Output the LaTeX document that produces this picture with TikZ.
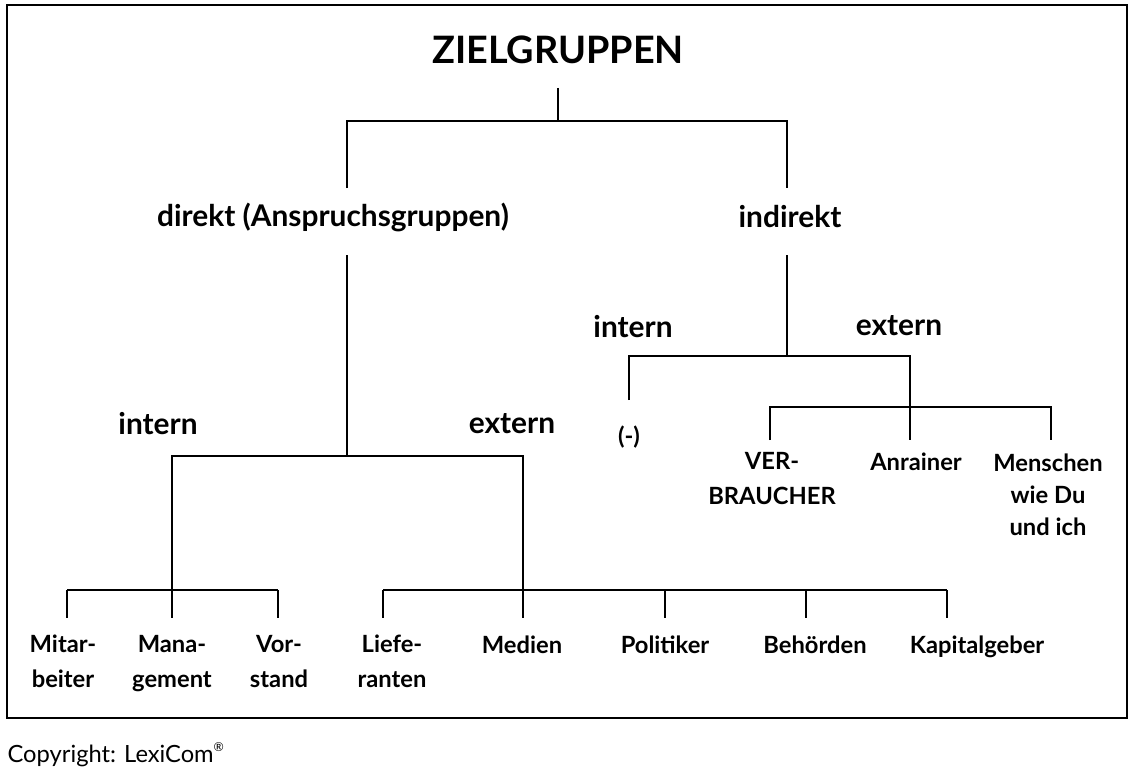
\documentclass[tikz,border=0pt]{standalone}
\usepackage{fontspec}
\setmainfont{Lato}
\usetikzlibrary{positioning}
\tikzset{
  lbl/.style={font=\bfseries\fontsize{17}{20}\selectfont, inner sep=1pt},
  leaf/.style={font=\bfseries\fontsize{13.5}{19.5}\selectfont, align=center, inner sep=0pt, anchor=base},
}
\begin{document}
\begin{tikzpicture}[x=0.02cm, y=-0.02cm, line width=0.7pt]
    \useasboundingbox (0,0) rectangle (1135,777);
    \draw (7,5) rectangle (1127,718);
    % Nodes
    \node [font=\bfseries\fontsize{21.5}{24}\selectfont] (ziel) at (558,50) {ZIELGRUPPEN};
    \node [lbl] (direkt) at (333,217) {direkt (Anspruchsgruppen)};
    \node [lbl] (indirekt) at (790,217) {indirekt};
    \node [lbl] (dint) at (158,424) {intern};
    \node [lbl] (dext) at (512,424) {extern};
    \node [lbl] (iint) at (633,327) {intern};
    \node [lbl] (iext) at (899,326) {extern};
    \node [leaf] (mitar) at (63,687) {Mitar-\\beiter};
    \node [leaf] (mana) at (172,687) {Mana-\\gement};
    \node [leaf] (vor) at (279,687) {Vor-\\stand};
    \node [leaf] (liefe) at (392,687) {Liefe-\\ranten};
    \node [leaf] (medien) at (522,653) {Medien};
    \node [leaf] (pol) at (665,653) {Politiker};
    \node [leaf] (beh) at (815,653) {Behörden};
    \node [leaf] (kap) at (977,653) {Kapitalgeber};
    \node [leaf] (leer) at (629,444) {(-)};
    \node [leaf] (verb) at (772,504) {VER-\\BRAUCHER};
    \node [leaf] (anr) at (916,470) {Anrainer};
    \node [leaf, font=\bfseries\fontsize{13.5}{18}\selectfont] (mensch) at (1048,535) {Menschen\\wie Du\\und ich};
    \node [anchor=west, font=\fontsize{13.5}{16}\selectfont, inner sep=0pt] (copy) at (7,755) {Copyright: LexiCom\raisebox{0.9ex}{\scriptsize ®}};

    % Junctions
    \coordinate (j0) at (558,121);
    \coordinate (jd) at (347,456);
    \coordinate (ji) at (787,356);
    \coordinate (jint) at (172,590);
    \coordinate (jext) at (523,590);
    \coordinate (jiext) at (910,407);

    % Connections
    \draw (ziel.south |- 0,88) -- (j0);
    \draw (347,188) |- (787,121) -- (787,188);
    \draw (347,255) -- (jd);
    \draw (172,590) |- (523,456) -- (jext);
    \draw (787,255) -- (ji);
    \draw (629,400) |- (910,356) -- (910,440);
    \draw (770,440) |- (1051,407) -- (1051,440);
    \draw (67,590) -- (278,590);
    \draw (383,590) -- (947,590);
    \foreach \x in {67,172,278,383,523,665,806,947}
        \draw (\x,590) -- (\x,618);
\end{tikzpicture}
\end{document}
